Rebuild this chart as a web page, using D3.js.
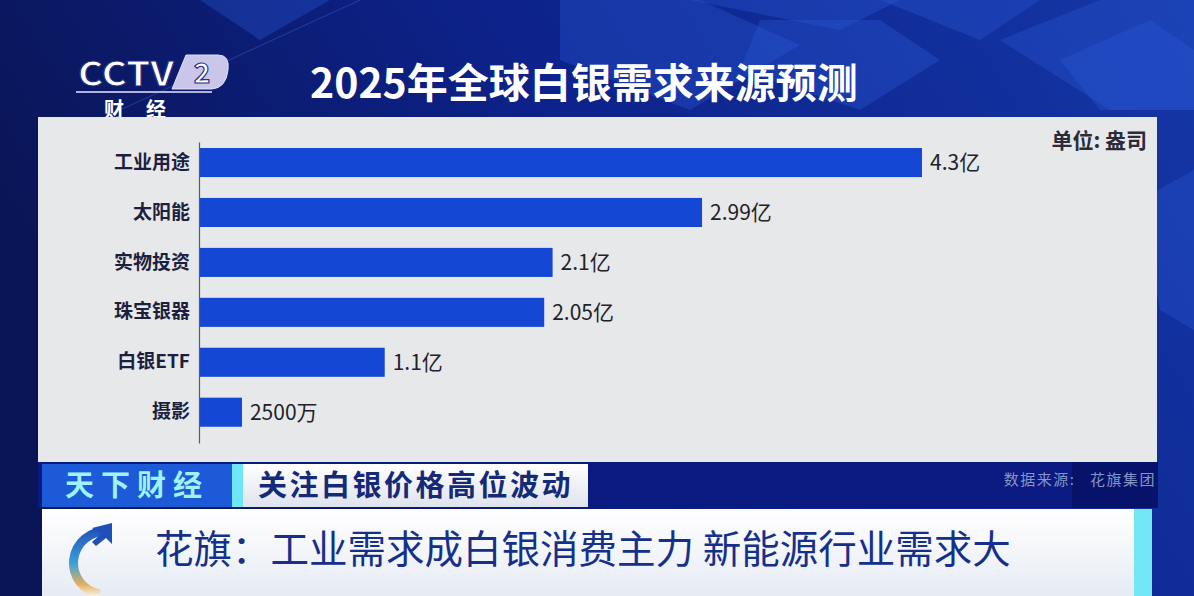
<!DOCTYPE html>
<html>
<head>
<meta charset="utf-8">
<script src="https://cdn.jsdelivr.net/npm/d3@7"></script>
<style>
  html, body { margin: 0; padding: 0; background: #0b1862; }
  svg { display: block; }
  text { font-family: "Noto Sans CJK SC", "Noto Sans", sans-serif; }
</style>
</head>
<body>
<svg id="chart" width="1194" height="596"></svg>
<script>
// ---- data ----
const categories = ["工业用途", "太阳能", "实物投资", "珠宝银器", "白银ETF", "摄影"];
const values = [4.3, 2.99, 2.1, 2.05, 1.1, 0.25];            // 亿盎司
const valueLabels = ["4.3亿", "2.99亿", "2.1亿", "2.05亿", "1.1亿", "2500万"];
const titleText = "2025年全球白银需求来源预测";
const unitText = "单位: 盎司";
const sourceText = "数据来源:   花旗集团";
const tagText = "天下财经";
const topicText = "关注白银价格高位波动";
const headlineText = "花旗：工业需求成白银消费主力 新能源行业需求大";

const svg = d3.select("#chart");
const W = 1194, H = 596;
const defs = svg.append("defs");

// ---- background ----
const bg = defs.append("linearGradient").attr("id", "bg").attr("x1", 0).attr("y1", 0.3).attr("x2", 1).attr("y2", 0);
bg.append("stop").attr("offset", "0").attr("stop-color", "#0a1557");
bg.append("stop").attr("offset", "0.45").attr("stop-color", "#0d228a");
bg.append("stop").attr("offset", "1").attr("stop-color", "#1437a6");
svg.append("rect").attr("width", W).attr("height", H).attr("fill", "url(#bg)");

const shapes = [
  [[560,0],[700,0],[800,45],[690,110],[560,60]],
  [[690,0],[900,0],[840,30]],
  [[760,20],[880,20],[940,60],[860,110],[740,70]],
  [[880,0],[1040,0],[980,40]],
  [[1000,40],[1100,0],[1194,0],[1194,110],[1110,110]],
  [[1060,60],[1150,20],[1194,50],[1194,110],[1100,110]],
  [[1140,200],[1194,170],[1194,330],[1160,310]],
  [[200,0],[330,0],[260,40]]
];
svg.selectAll("polygon.bgshape").data(shapes).join("polygon")
  .attr("class", "bgshape")
  .attr("points", d => d.map(p => p.join(",")).join(" "))
  .attr("fill", "#2a5ad8").attr("opacity", 0.35);
svg.append("line").attr("x1", 120).attr("y1", 110).attr("x2", 360).attr("y2", 0)
  .attr("stroke", "#3a5fd0").attr("stroke-width", 1).attr("opacity", 0.5);

// ---- CCTV logo ----
const logo = svg.append("g");
logo.append("text").attr("x", 78).attr("y", 86).text("CCTV")
  .attr("font-family", "DejaVu Sans, sans-serif").attr("font-weight", "bold")
  .attr("font-size", 33).attr("textLength", 96).attr("lengthAdjust", "spacingAndGlyphs")
  .attr("fill", "#ffffff").attr("stroke", "#1a2a80").attr("stroke-width", 1);
logo.append("path").attr("d", "M186,55 L218,55 Q230,55 228,70 Q226,88 212,89 L172,89 Z")
  .attr("fill", "#c9c6ea").attr("stroke", "#e0e0ff").attr("stroke-width", 1);
logo.append("text").attr("x", 202).attr("y", 83).attr("text-anchor", "middle").text("2")
  .attr("font-family", "DejaVu Sans, sans-serif").attr("font-weight", "bold")
  .attr("font-size", 28).attr("fill", "#ffffff").attr("stroke", "#2a2f8a").attr("stroke-width", 1.2);
logo.append("line").attr("x1", 76).attr("y1", 92).attr("x2", 212).attr("y2", 92)
  .attr("stroke", "#b4b0e0").attr("stroke-width", 2);
logo.append("text").attr("x", 104).attr("y", 117).text("财").attr("font-size", 20).attr("font-weight", "bold").attr("fill", "#ffffff");
logo.append("text").attr("x", 146).attr("y", 117).text("经").attr("font-size", 20).attr("font-weight", "bold").attr("fill", "#ffffff");

// ---- title ----
svg.append("text").attr("x", 310).attr("y", 98).text(titleText)
  .attr("font-size", 41).attr("font-weight", "bold").attr("fill", "#ffffff");

// ---- panel ----
svg.append("rect").attr("x", 38).attr("y", 117).attr("width", 1119).attr("height", 345)
  .attr("fill", "#e7e8ea");

svg.append("text").attr("x", 1147).attr("y", 148).attr("text-anchor", "end").text(unitText)
  .attr("font-size", 21).attr("font-weight", "bold").attr("fill", "#2b2b3a");

// ---- scales ----
const y = d3.scaleBand().domain(categories).range([142, 443])
  .paddingInner(0.418).paddingOuter(0.223).align(0.27);
const x = d3.scaleLinear().domain([0, d3.max(values)]).range([200, 922]);

// bars
svg.append("g").selectAll("rect").data(values).join("rect")
  .attr("x", x(0))
  .attr("y", (d, i) => y(categories[i]))
  .attr("width", d => x(d) - x(0))
  .attr("height", y.bandwidth())
  .attr("fill", "#1447d3");

// axis
const yAxis = svg.append("g").attr("transform", `translate(${x(0) - 1},0)`)
  .call(d3.axisLeft(y).tickSize(0).tickPadding(9));
yAxis.select(".domain").attr("stroke", "#5a5a66").attr("stroke-width", 1.2);
yAxis.selectAll("text").attr("font-size", 19).attr("font-weight", "bold")
  .attr("fill", "#1d1f3e").attr("font-family", "\"Noto Sans CJK SC\", sans-serif");

// value labels
svg.append("g").selectAll("text").data(values).join("text")
  .attr("x", d => x(d) + 8)
  .attr("y", (d, i) => y(categories[i]) + y.bandwidth() / 2)
  .attr("dy", "0.36em")
  .text((d, i) => valueLabels[i])
  .attr("font-size", 21).attr("fill", "#222226");

// ---- lower strip ----
svg.append("rect").attr("x", 38).attr("y", 462).attr("width", 1120).attr("height", 46).attr("fill", "#0a1a80");
svg.append("rect").attr("x", 1072).attr("y", 462).attr("width", 86).attr("height", 46).attr("fill", "#07136a");
svg.append("rect").attr("x", 42).attr("y", 464).attr("width", 190).attr("height", 43).attr("fill", "#1c5ad8");
svg.append("text").attr("x", 137).attr("y", 496).attr("text-anchor", "middle").text(tagText)
  .attr("font-size", 29).attr("font-weight", "bold").attr("letter-spacing", 7).attr("fill", "#9ff3ff");
svg.append("rect").attr("x", 232).attr("y", 464).attr("width", 11).attr("height", 43).attr("fill", "#6ee6f6");
const tg = defs.append("linearGradient").attr("id", "tg").attr("x1", 0).attr("y1", 0).attr("x2", 0).attr("y2", 1);
tg.append("stop").attr("offset", "0").attr("stop-color", "#ffffff");
tg.append("stop").attr("offset", "1").attr("stop-color", "#dfe3ee");
svg.append("rect").attr("x", 243).attr("y", 464).attr("width", 345).attr("height", 43).attr("fill", "url(#tg)");
svg.append("text").attr("x", 258).attr("y", 496).text(topicText)
  .attr("font-size", 29).attr("font-weight", "bold").attr("letter-spacing", 2.5).attr("fill", "#142a78");
svg.append("text").attr("x", 1156).attr("y", 485).attr("text-anchor", "end").text(sourceText)
  .style("white-space", "pre").attr("letter-spacing", 1.5)
  .attr("font-size", 15).attr("fill", "#8495c8");

// ---- headline band ----
const hg = defs.append("linearGradient").attr("id", "hg").attr("x1", 0).attr("y1", 0).attr("x2", 0).attr("y2", 1);
hg.append("stop").attr("offset", "0").attr("stop-color", "#ffffff");
hg.append("stop").attr("offset", "1").attr("stop-color", "#e6ebf4");
svg.append("rect").attr("x", 42).attr("y", 509).attr("width", 1093).attr("height", 87).attr("fill", "url(#hg)");
svg.append("rect").attr("x", 1134).attr("y", 509).attr("width", 18).attr("height", 87).attr("fill", "#72e8f6");

// arc logo
const ag = defs.append("linearGradient").attr("id", "ag").attr("x1", 0).attr("y1", 0).attr("x2", 0).attr("y2", 1);
ag.append("stop").attr("offset", "0").attr("stop-color", "#1f4fb8");
ag.append("stop").attr("offset", "0.5").attr("stop-color", "#3aa0d8");
ag.append("stop").attr("offset", "0.8").attr("stop-color", "#e0b060");
ag.append("stop").attr("offset", "1").attr("stop-color", "#ffffff");
const arc = d3.arc().innerRadius(27).outerRadius(36).startAngle(-Math.PI * 0.95).endAngle(Math.PI * 0.02);
svg.append("path").attr("d", arc()).attr("transform", "translate(105,563)").attr("fill", "url(#ag)");
svg.append("path").attr("d", "M92,528 L112,523 L112,544 L106,538 L96,546 L92,542 L101,534 Z")
  .attr("fill", "#1f4fb8");

svg.append("text").attr("x", 155).attr("y", 563).text(headlineText)
  .attr("font-size", 38.5).attr("fill", "#15308a");
</script>
</body>
</html>
